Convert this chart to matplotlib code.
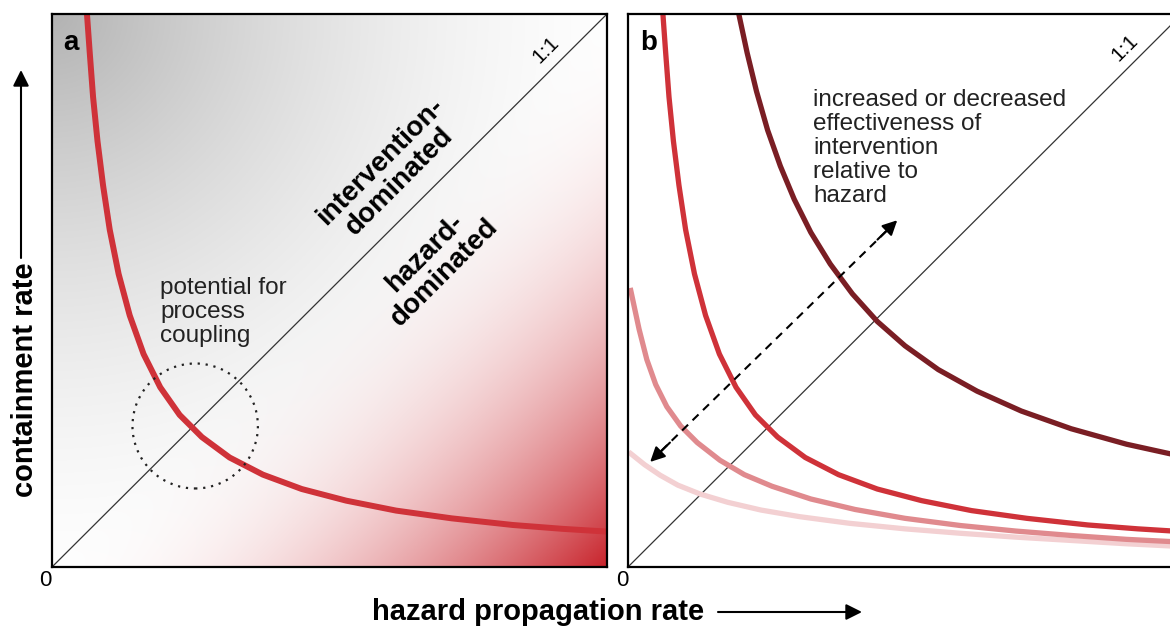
import matplotlib.pyplot as plt
import numpy as np
from matplotlib.patches import Circle, FancyArrowPatch

plt.rcParams['font.family'] = ['Liberation Sans', 'DejaVu Sans']

# curves (x = hazard propagation, y = containment, both 0..1)
base_x = [0.063, 0.068, 0.074, 0.082, 0.092, 0.104, 0.12, 0.14, 0.165, 0.195, 0.23,
          0.27, 0.32, 0.38, 0.45, 0.53, 0.62, 0.72, 0.83, 0.92, 1.0]
base_y = [1.0, 0.93, 0.85, 0.77, 0.69, 0.61, 0.53, 0.455, 0.385, 0.325, 0.275,
          0.235, 0.198, 0.167, 0.141, 0.12, 0.102, 0.088, 0.076, 0.069, 0.064]

dark_x = [0.2, 0.215, 0.232, 0.252, 0.275, 0.30, 0.33, 0.365, 0.405, 0.45, 0.50,
          0.56, 0.63, 0.71, 0.80, 0.90, 1.0]
dark_y = [1.0, 0.93, 0.86, 0.79, 0.725, 0.665, 0.605, 0.548, 0.494, 0.444, 0.40,
          0.357, 0.318, 0.282, 0.25, 0.222, 0.2]

pink_x = [0.005, 0.02, 0.034, 0.05, 0.07, 0.095, 0.125, 0.166, 0.21, 0.26, 0.33,
          0.41, 0.5, 0.6, 0.7, 0.8, 0.9, 1.0]
pink_y = [0.50, 0.43, 0.375, 0.33, 0.29, 0.255, 0.225, 0.193, 0.167, 0.146, 0.123,
          0.104, 0.088, 0.075, 0.065, 0.057, 0.05, 0.045]

light_x = [0.005, 0.03, 0.058, 0.09, 0.13, 0.18, 0.24, 0.31, 0.4, 0.5, 0.6, 0.7,
           0.8, 0.9, 1.0]
light_y = [0.205, 0.185, 0.166, 0.148, 0.132, 0.117, 0.103, 0.091, 0.079, 0.069,
           0.061, 0.054, 0.048, 0.042, 0.037]

RED = '#cf3239'
DARK = '#7a1e24'
PINK = '#e08a8e'
LIGHT = '#f3d0d2'

fig = plt.figure(figsize=(11.7, 6.3), dpi=100)
W, H = 1170, 630
axa = fig.add_axes([52 / W, 63 / H, 555 / W, 553 / H])
axb = fig.add_axes([628 / W, 63 / H, 554 / W, 553 / H])

for ax in (axa, axb):
    ax.set_xlim(0, 1)
    ax.set_ylim(0, 1)
    ax.set_xticks([])
    ax.set_yticks([])
    for s in ax.spines.values():
        s.set_linewidth(1.6)
        s.set_zorder(10)
    ax.plot([0, 1], [0, 1], color='#333333', lw=0.9, zorder=2)

# background shading of panel a: grey from top-left corner, red from bottom-right
n = 400
gx, gy = np.meshgrid(np.linspace(0, 1, n), np.linspace(0, 1, n))
r = np.hypot(gx, 1 - gy)
grey = 1 - 0.3 * np.clip(1 - r / 1.1, 0, 1) ** 1.7
tr = np.clip(gx - gy, 0, 1) ** 2.0
red_rgb = np.array([200, 36, 44]) / 255
img = np.empty((n, n, 3))
for k in range(3):
    img[..., k] = grey * (1 - tr) + red_rgb[k] * tr
axa.imshow(img, extent=[0, 1, 0, 1], origin='lower', aspect='auto', zorder=0)

axa.plot(base_x, base_y, color=RED, lw=4.3, zorder=3)
axa.add_patch(Circle((0.258, 0.255), 0.113, fill=False, ls=(0, (1, 2.6)),
                     lw=1.6, color='#222222', zorder=4))

axb.plot(light_x, light_y, color=LIGHT, lw=3.8, zorder=3)
axb.plot(pink_x, pink_y, color=PINK, lw=3.8, zorder=3)
axb.plot(base_x, base_y, color=RED, lw=3.8, zorder=3)
axb.plot(dark_x, dark_y, color=DARK, lw=3.8, zorder=3)

# dashed double arrow
p0 = (0.040, 0.19)
p1 = (0.486, 0.627)
axb.plot([p0[0] + 0.02, p1[0] - 0.02], [p0[1] + 0.02, p1[1] - 0.02], color='k',
         lw=1.5, ls=(0, (4, 3)), zorder=5)
for a, b in ((p0, p1), (p1, p0)):
    axb.annotate('', xy=a, xytext=(a[0] + (b[0] - a[0]) * 0.08, a[1] + (b[1] - a[1]) * 0.08),
                 arrowprops=dict(arrowstyle='-|>', color='k', lw=1.5, mutation_scale=22,
                                 shrinkA=0, shrinkB=0), zorder=5)

# text
axa.text(0.02, 0.935, 'a', fontsize=20, fontweight='bold', va='baseline')
axb.text(0.022, 0.935, 'b', fontsize=20, fontweight='bold', va='baseline')
axa.text(0.89, 0.935, '1:1', fontsize=15, rotation=45, ha='center', va='center')
axb.text(0.897, 0.938, '1:1', fontsize=15, rotation=45, ha='center', va='center')
axa.text(0.609, 0.715, 'intervention-\ndominated', fontsize=20, fontweight='bold',
         rotation=45, ha='center', va='center', multialignment='center', linespacing=1.05)
axa.text(0.69, 0.55, 'hazard-\ndominated', fontsize=20, fontweight='bold',
         rotation=45, ha='center', va='center', multialignment='center', linespacing=1.05)
axa.text(0.195, 0.525, 'potential for\nprocess\ncoupling', fontsize=17.5,
         va='top', ha='left', linespacing=1.12, color='#222222')
axb.text(0.334, 0.865, 'increased or decreased\neffectiveness of\nintervention\nrelative to\nhazard',
         fontsize=17.5, va='top', ha='left', linespacing=1.12, color='#222222')

fig.text(45 / W, 1 - 581 / H, '0', fontsize=16, ha='center', va='center')
fig.text(622 / W, 1 - 581 / H, '0', fontsize=16, ha='center', va='center')

fig.text(25 / W, 1 - 380 / H, 'containment rate', fontsize=21, fontweight='bold',
         rotation=90, ha='center', va='center')
fig.text(538 / W, 1 - 612 / H, 'hazard propagation rate', fontsize=21, fontweight='bold',
         ha='center', va='center')

arrow = dict(arrowstyle='-|>', color='k', lw=1.5, mutation_scale=24, shrinkA=0, shrinkB=0)
fig.add_artist(FancyArrowPatch((21 / W, 1 - 258 / H), (21 / W, 1 - 70 / H),
                               transform=fig.transFigure, **arrow))
fig.add_artist(FancyArrowPatch((718 / W, 1 - 612 / H), (862 / W, 1 - 612 / H),
                               transform=fig.transFigure, **arrow))

fig.savefig('out.png', dpi=100)
